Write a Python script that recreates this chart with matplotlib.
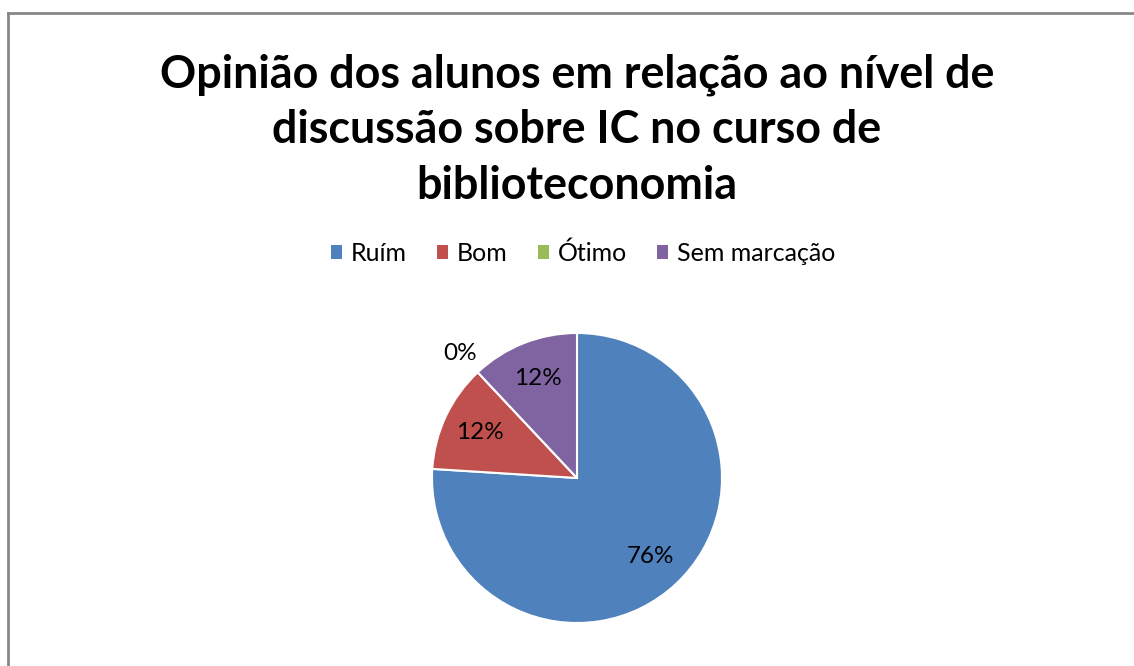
import matplotlib
matplotlib.use("Agg")
from matplotlib import pyplot as plt
from matplotlib.lines import Line2D
from matplotlib.patches import Patch
import numpy as np

categorias = ["Ruím", "Bom", "Ótimo", "Sem marcação"]
valores = [76, 12, 0, 12]
cores = ["#4F81BD", "#C0504D", "#9BBB59", "#8064A2"]
titulo = "Opinião dos alunos em relação ao nível de\ndiscussão sobre IC no curso de\nbiblioteconomia"

plt.rcParams['font.family'] = ['Lato', 'DejaVu Sans']

W, H = 1134, 666
fig = plt.figure(figsize=(W / 100, H / 100), dpi=100)
ax = fig.add_axes([0, 0, 1, 1])

# borda do grafico
fig.add_artist(Line2D([8 / W, 8 / W], [0, 1 - 13 / H], color="#878787", lw=2))
fig.add_artist(Line2D([8 / W, 1], [1 - 13 / H, 1 - 13 / H], color="#878787", lw=2))

cx, cy, r = 577, H - 478, 145
wedges, _ = ax.pie(valores, colors=cores, startangle=90, counterclock=False,
                   center=(cx, cy), radius=r, frame=True,
                   wedgeprops=dict(edgecolor="white", linewidth=1.5))
ax.set_xlim(0, W)
ax.set_ylim(0, H)
ax.set_aspect('equal')
ax.axis('off')

for w, v in zip(wedges, valores):
    ang = np.deg2rad((w.theta1 + w.theta2) / 2)
    d = 0.74 if v > 0 else 1.18
    ax.text(cx + d * r * np.cos(ang), cy + d * r * np.sin(ang), f"{v}%",
            ha="center", va="center", fontsize=17.5)

fig.text(577 / W, 1 - 130 / H, titulo, ha="center", va="center",
         fontsize=32.3, fontweight="bold", linespacing=1.4)

handles = [Patch(facecolor=c, edgecolor="none") for c in cores]
fig.legend(handles, categorias, loc="center", bbox_to_anchor=(583 / W, 1 - 253 / H),
           ncol=4, frameon=False, fontsize=18, handlelength=0.45, handleheight=0.45,
           handletextpad=0.35, columnspacing=1.2)

fig.savefig("out.png", dpi=100)
